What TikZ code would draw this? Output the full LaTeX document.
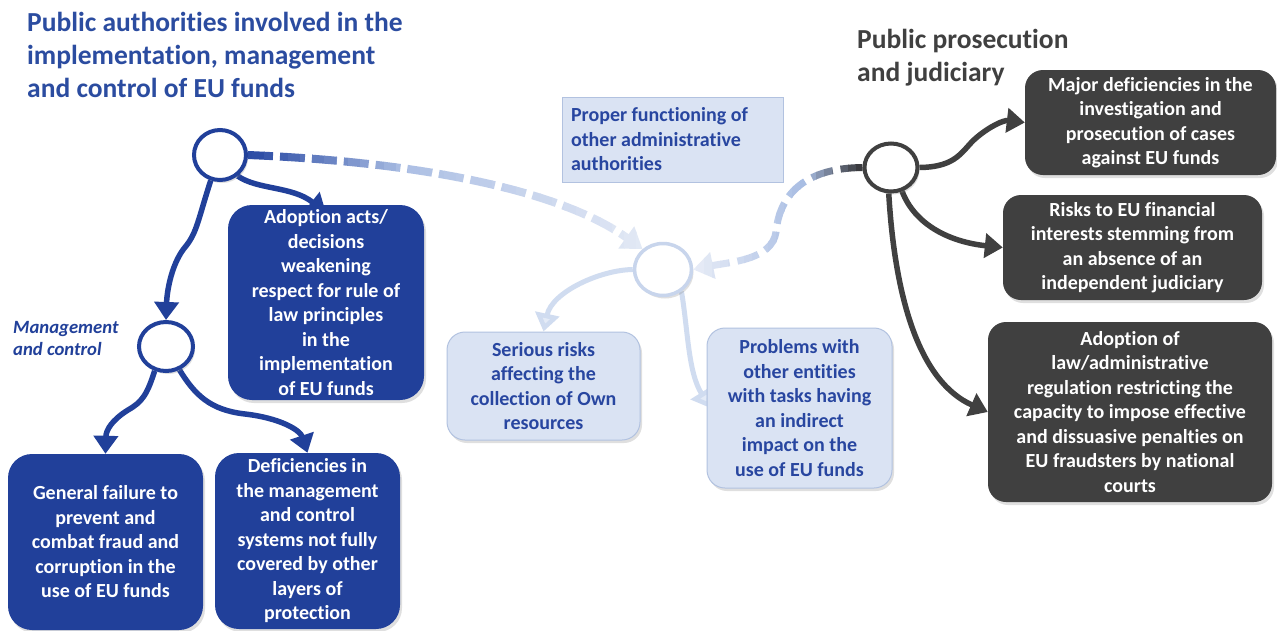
\documentclass[tikz,border=0pt]{standalone}
\usepackage{fontspec}
\setmainfont[Ligatures=NoCommon]{Carlito}
\usetikzlibrary{arrows.meta,shapes.geometric,shadows}
\definecolor{eublue}{RGB}{33,64,154}
\definecolor{titleblue}{RGB}{43,76,160}
\definecolor{dgray}{RGB}{64,64,64}
\definecolor{lbfill}{RGB}{218,227,243}
\definecolor{lbborder}{RGB}{178,194,224}
\definecolor{ltext}{RGB}{40,70,160}
\definecolor{larrow}{RGB}{208,220,240}
\definecolor{larrowtip}{RGB}{228,235,247}
\definecolor{lcircle}{RGB}{200,213,236}
\definecolor{dashA}{RGB}{44,76,165}
\definecolor{dashB}{RGB}{172,191,228}
\definecolor{dashC}{RGB}{232,237,247}
\definecolor{gdash}{RGB}{58,58,62}
\definecolor{dashB2}{RGB}{168,189,227}
\pgfdeclarelayer{bg}
\pgfsetlayers{bg,main}
\begin{document}
\begin{tikzpicture}[x=1pt,y=-1pt,
  boxtext/.style={font=\bfseries\fontsize{20}{24.5}\selectfont, align=center, inner sep=0pt},
  shad/.style={drop shadow={shadow xshift=2pt,shadow yshift=-3pt,opacity=0.25}},
  bluebox/.style={boxtext, rectangle, rounded corners=24pt, fill=eublue, text=white, shad},
  graybox/.style={boxtext, rectangle, rounded corners=18pt, fill=dgray, text=white, shad},
  lightbox/.style={boxtext, rectangle, rounded corners=18pt, fill=lbfill, draw=lbborder, line width=1pt, text=ltext, shad},
  hub/.style={ellipse, fill=white, inner sep=0pt, line width=4pt, shad},
  titletext/.style={font=\bfseries\fontsize{27.5}{33}\selectfont, align=left, inner sep=0pt},
  barrow/.style={draw=eublue, line width=5.5pt, -{Triangle[width=24pt,length=18pt]}},
  garrow/.style={draw=dgray, line width=5.5pt, -{Triangle[width=24pt,length=18pt]}},
  larrowst/.style={draw=larrow, line width=5pt, -{Triangle[width=24pt,length=18pt,fill=larrowtip]}},
  dashl/.style={line width=8pt, dash pattern=on 25pt off 7pt, -{Triangle[width=26pt,length=20pt]}},
  dashr/.style={line width=7pt, dash pattern=on 22pt off 8pt, -{Triangle[width=26pt,length=20pt]}}
]
\useasboundingbox (0,0) rectangle (1277,630);
\begin{pgfonlayer}{bg}
\fill[white] (0,0) rectangle (1277,630);
\end{pgfonlayer}

% titles
\node[titletext, text=titleblue, anchor=west] (t1) at (27,55) {Public authorities involved in the\\implementation, management\\and control of EU funds};
\node[titletext, text=dgray, anchor=west] (t2) at (857,57.5) {Public prosecution\\and judiciary};
\node[font=\bfseries\itshape\fontsize{18.7}{22}\selectfont, text=eublue, align=left, anchor=west, inner sep=0pt] (mc) at (13,338) {Management\\and control};

% hubs
\node[hub, draw=eublue, minimum width=52pt, minimum height=50pt] (c1) at (220,155) {};
\node[hub, draw=eublue, minimum width=54pt, minimum height=49pt] (c2) at (166,346.5) {};
\node[hub, draw=lcircle, line width=3.5pt, minimum width=57pt, minimum height=52pt] (c3) at (663,269.5) {};
\node[hub, draw=dgray, minimum width=53pt, minimum height=48pt] (c4) at (891,167.5) {};

% proper functioning box
\node[rectangle, fill=lbfill, draw=lbborder, line width=1pt, font=\bfseries\fontsize{20}{24.5}\selectfont, text=ltext, align=flush left, text width=203pt, inner xsep=9pt, inner ysep=0pt, minimum height=85pt] (pf) at (672.5,139.5) {Proper functioning of\\other administrative\\authorities};

% blue boxes
\node[bluebox, minimum width=196pt, minimum height=195pt] (bA) at (326,302.5) {Adoption acts/\\decisions\\weakening\\respect for rule of\\law principles\\in the\\implementation\\of EU funds};
\node[bluebox, minimum width=195pt, minimum height=176pt] (bG) at (105.5,542) {General failure to\\prevent and\\combat fraud and\\corruption in the\\use of EU funds};
\node[bluebox, minimum width=185pt, minimum height=176pt] (bD) at (307.5,541) {Deficiencies in\\the management\\and control\\systems not fully\\covered by other\\layers of\\protection};

% light boxes
\node[lightbox, minimum width=193pt, minimum height=108pt] (bS) at (543.5,386) {Serious risks\\affecting the\\collection of Own\\resources};
\node[lightbox, minimum width=185pt, minimum height=160pt] (bP) at (799.5,408) {Problems with\\other entities\\with tasks having\\an indirect\\impact on the\\use of EU funds};

% gray boxes
\node[graybox, minimum width=251pt, minimum height=105pt] (bM) at (1150.5,122.5) {Major deficiencies in the\\investigation and\\prosecution of cases\\against EU funds};
\node[graybox, minimum width=259pt, minimum height=105pt] (bR) at (1132.5,247.5) {Risks to EU financial\\interests stemming from\\an absence of an\\independent judiciary};
\node[graybox, minimum width=284pt, minimum height=180pt] (bL) at (1130,412) {Adoption of\\law/administrative\\regulation restricting the\\capacity to impose effective\\and dissuasive penalties on\\EU fraudsters by national\\courts};

\begin{pgfonlayer}{bg}
% blue arrows
\draw[barrow] (c1.250) .. controls (198,220) and (197,232) .. (186,246) .. controls (172,262) and (167,290) .. (c2.north);
\draw[barrow] (c1.-50) .. controls (258,190) and (292,186) .. ([yshift=-8pt]bA.north);
\draw[barrow] (c2.245) .. controls (147,395) and (142,402) .. (128,410) .. controls (112,420) and (106,430) .. (bG.north);
\draw[barrow] (c2.-60) .. controls (195,395) and (210,410) .. (245,414) .. controls (280,418) and (300,430) .. (bD.north);
% light arrows
\draw[larrowst] (c3.west) .. controls (600,270) and (552,292) .. (bS.north);
\draw[larrowst] (c3.-50) .. controls (688,330) and (688,372) .. ([xshift=4pt]bP.west);
% gray arrows
\draw[garrow] (c4.east) .. controls (958,167) and (962,150) .. (976,138) .. controls (990,126) and (1004,120) .. (bM.west);
\draw[garrow] (c4.-65) .. controls (915,225) and (950,242) .. (bR.west);
\draw[garrow] (c4.-95) .. controls (895,300) and (920,382) .. (bL.west);
% left dashed gradient connector
\foreach \xa in {240,252,...,660}{
  \pgfmathtruncatemacro{\seg}{\xa<400}
  \ifnum\seg=1
    \pgfmathsetmacro{\p}{max(0,min(100,(400-\xa)/1.5))}
    \colorlet{sc}{dashA!\p!dashB}
  \else
    \pgfmathsetmacro{\p}{max(0,min(100,(660-\xa)/2.6))}
    \colorlet{sc}{dashB!\p!dashC}
  \fi
  \begin{scope}
    \clip (\xa,100) rectangle (\xa+12.5,320);
    \draw[dashl, draw=sc] (c1.east) .. controls (420,162) and (560,190) .. (c3.135);
  \end{scope}
}
% right dashed gradient connector
\foreach \xa in {680,688,...,880}{
  \pgfmathtruncatemacro{\seg}{\xa>798}
  \ifnum\seg=1
    \pgfmathsetmacro{\p}{max(0,min(100,(\xa-800)/0.55))}
    \colorlet{sc}{gdash!\p!dashB2}
  \else
    \pgfmathsetmacro{\p}{max(0,min(100,(\xa-690)/1.1))}
    \colorlet{sc}{dashB2!\p!dashC}
  \fi
  \begin{scope}
    \clip (\xa,100) rectangle (\xa+8.5,320);
    \draw[dashr, draw=sc] (c4.west) .. controls (810,168) and (780,190) .. (776,232) .. controls (772,260) and (730,262) .. (c3.east);
  \end{scope}
}
\end{pgfonlayer}
\end{tikzpicture}
\end{document}
